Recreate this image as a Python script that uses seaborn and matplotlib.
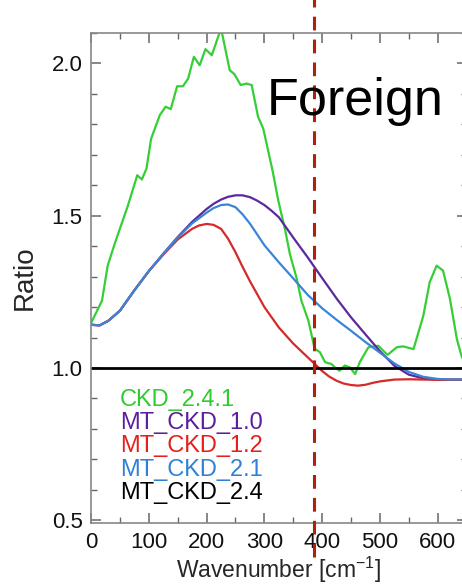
import numpy as np
import pandas as pd
import matplotlib
matplotlib.use("Agg")
import matplotlib.pyplot as plt
import seaborn as sns

# ---------------- data ----------------
ckd241_x = [0, 19, 29, 41, 64, 80, 88, 96, 104, 119, 129, 138, 149, 159, 168, 178, 188, 198, 209,
            225, 240, 248, 259, 269, 278, 289, 298, 314, 324, 336, 344, 356, 364, 376, 387, 396,
            405, 416, 422, 430, 439, 448, 457, 465, 480, 497, 513, 529, 540, 558, 575, 586, 598,
            609, 621, 633, 641, 650]
ckd241_y = [1.147, 1.221, 1.337, 1.408, 1.534, 1.633, 1.619, 1.655, 1.753, 1.830, 1.858, 1.850,
            1.925, 1.925, 1.950, 2.022, 1.994, 2.047, 2.027, 2.115, 1.978, 1.965, 1.929, 1.934,
            1.929, 1.825, 1.786, 1.649, 1.550, 1.452, 1.375, 1.293, 1.221, 1.156, 1.063, 1.052,
            1.019, 1.013, 1.002, 0.991, 1.008, 1.002, 0.980, 1.019, 1.068, 1.073, 1.043, 1.068,
            1.071, 1.062, 1.172, 1.282, 1.336, 1.320, 1.227, 1.095, 1.040, 1.000]

mtckd10_x = [0, 15, 30, 50, 75, 100, 125, 150, 175, 200, 212, 225, 237, 250, 262, 275, 287, 300,
             312, 325, 337, 350, 375, 400, 425, 450, 475, 500, 525, 550, 575, 600, 650]
mtckd10_y = [1.142, 1.140, 1.155, 1.188, 1.255, 1.318, 1.375, 1.430, 1.480, 1.522, 1.539, 1.553,
             1.562, 1.567, 1.567, 1.561, 1.550, 1.535, 1.517, 1.495, 1.463, 1.428, 1.363, 1.295,
             1.228, 1.166, 1.110, 1.055, 1.007, 0.978, 0.966, 0.962, 0.962]
mtckd12_x = [0, 15, 30, 50, 75, 100, 125, 150, 175, 187, 200, 212, 225, 237, 250, 262, 275, 300,
             325, 350, 375, 400, 412, 425, 437, 450, 462, 475, 487, 500, 525, 550, 600, 650]
mtckd12_y = [1.142, 1.140, 1.155, 1.188, 1.255, 1.318, 1.372, 1.422, 1.457, 1.468, 1.473, 1.470,
             1.457, 1.425, 1.380, 1.333, 1.285, 1.200, 1.133, 1.080, 1.035, 0.990, 0.972, 0.958,
             0.949, 0.944, 0.942, 0.945, 0.951, 0.956, 0.962, 0.963, 0.961, 0.961]
mtckd21_x = [0, 15, 30, 50, 75, 100, 125, 150, 175, 200, 212, 225, 237, 250, 262, 275, 287, 300,
             325, 350, 375, 400, 425, 450, 475, 500, 525, 550, 575, 600, 625, 650]
mtckd21_y = [1.142, 1.140, 1.155, 1.188, 1.255, 1.318, 1.375, 1.428, 1.475, 1.510, 1.525, 1.535,
             1.537, 1.528, 1.505, 1.474, 1.440, 1.403, 1.347, 1.294, 1.240, 1.196, 1.158, 1.122,
             1.085, 1.050, 1.015, 0.987, 0.971, 0.964, 0.962, 0.962]
mtckd24_x = [0, 650]
mtckd24_y = [1.0, 1.0]

series_names = ["CKD_2.4.1", "MT_CKD_1.0", "MT_CKD_1.2", "MT_CKD_2.1", "MT_CKD_2.4"]
line_colors = ["#35cf35", "#5a2a9c", "#d42a2a", "#3a86d6", "#000000"]
label_colors = ["#2ecc2e", "#5b1f9e", "#e5201c", "#2f80d8", "#000000"]
boundary_x = 386
x_ticks = [0, 100, 200, 300, 400, 500, 600]
y_ticks = [0.5, 1.0, 1.5, 2.0]
annotation = "Foreign"

# ---------------- frame ----------------
frames = []
for name, xs, ys in [(series_names[0], ckd241_x, ckd241_y),
                     (series_names[1], mtckd10_x, mtckd10_y),
                     (series_names[2], mtckd12_x, mtckd12_y),
                     (series_names[3], mtckd21_x, mtckd21_y),
                     (series_names[4], mtckd24_x, mtckd24_y)]:
    frames.append(pd.DataFrame({"x": xs, "y": ys, "series": name}))
df = pd.concat(frames, ignore_index=True)

sns.set_style("ticks")
plt.rcParams["font.family"] = ["Liberation Sans", "DejaVu Sans"]
plt.rcParams["mathtext.fontset"] = "custom"
plt.rcParams["mathtext.rm"] = "Liberation Sans"
plt.rcParams["mathtext.it"] = "Liberation Sans:italic"
plt.rcParams.update({
    "xtick.direction": "in", "ytick.direction": "in",
    "xtick.top": True, "ytick.right": True,
    "xtick.major.size": 7, "ytick.major.size": 7,
    "xtick.minor.size": 4, "ytick.minor.size": 4,
    "xtick.major.width": 1.1, "ytick.major.width": 1.1,
    "xtick.minor.width": 1.0, "ytick.minor.width": 1.0,
    "xtick.color": "#666666", "ytick.color": "#666666",
    "xtick.labelcolor": "#111111", "ytick.labelcolor": "#111111",
})

W, H = 462, 585
fig = plt.figure(figsize=(W / 100, H / 100), dpi=100)
left_px, right_px, top_px, bottom_px = 91, 466.7, 33, 522.7
ax = fig.add_axes([left_px / W, 1 - bottom_px / H, (right_px - left_px) / W, (bottom_px - top_px) / H])

palette = dict(zip(series_names, line_colors))
sns.lineplot(data=df, x="x", y="y", hue="series", palette=palette, ax=ax,
             legend=False, estimator=None, sort=False, linewidth=1.6)
ax.lines[-1].set_linewidth(2.0)
for ln in ax.lines:
    ln.set_solid_joinstyle("round")

ax.set_xlim(0, 650)
ax.set_ylim(0.492, 2.1)
ax.set_xticks(x_ticks)
ax.set_yticks(y_ticks)
ax.set_yticklabels([f"{v:.1f}" for v in y_ticks])
ax.xaxis.set_minor_locator(matplotlib.ticker.MultipleLocator(50))
ax.yaxis.set_minor_locator(matplotlib.ticker.MultipleLocator(0.1))
ax.tick_params(which="both", direction="in", top=True, right=True, bottom=True, left=True,
               color="#666666")
ax.tick_params(axis="both", which="major", labelsize=16)
ax.tick_params(axis="y", which="major", pad=6)
ax.tick_params(axis="x", which="major", pad=7)
for sp in ax.spines.values():
    sp.set_color("#888888")
    sp.set_linewidth(1.2)

ax.set_xlabel("Wavenumber [cm$^{-1}$]", fontsize=16.5, labelpad=1)
ax.set_ylabel("Ratio", fontsize=20, labelpad=10)

# dashed boundary line running past the axes
ax.plot([boundary_x, boundary_x], [0.38, 2.22], color="#b0200c", linewidth=2.2,
        linestyle=(0, (4.5, 3.0)), clip_on=False, zorder=5)

# colored labels
for i, (name, col) in enumerate(zip(series_names, label_colors)):
    ax.text(50, 0.895 - i * 0.0763, name, color=col, fontsize=17, va="center", ha="left")

fig.text(267 / W, 1 - 115 / H, annotation, fontsize=37.5, color="black", va="baseline", ha="left")

fig.savefig("out.png", dpi=100)
